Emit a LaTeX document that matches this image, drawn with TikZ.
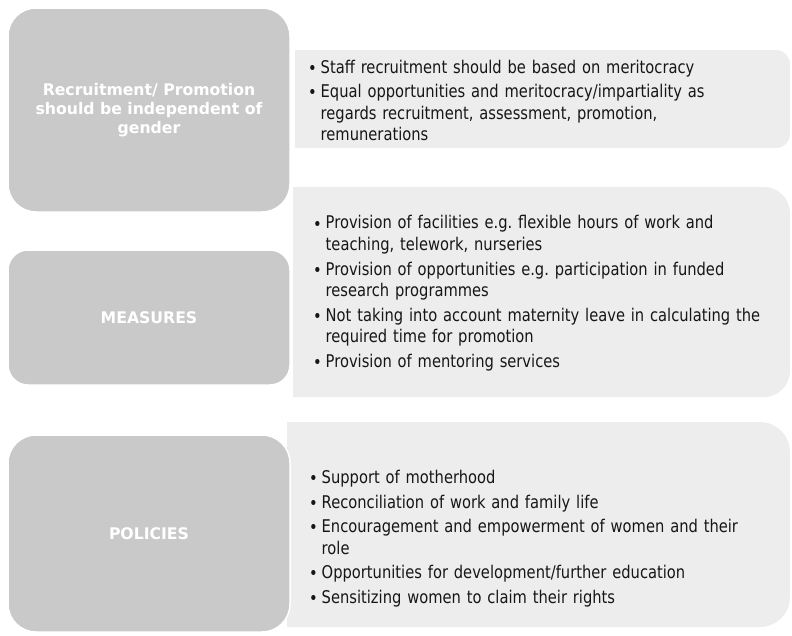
\documentclass[tikz,border=0pt]{standalone}
\usepackage{fontspec}
\setmainfont{DejaVu Sans}[FakeStretch=0.84]
\newfontfamily\headfont{DejaVu Sans}[FakeStretch=0.98]
\usepackage{xcolor}
\usepackage{tikz}

\definecolor{darkbox}{HTML}{C9C9C9}
\definecolor{lightbox}{HTML}{EDEDED}
\definecolor{bodytext}{HTML}{161616}

% one bullet point, wrapped lines kept under the text;
% prevdepth is reset to the last line so the next item sits at the normal skip
\newcommand{\itm}[1]{\par\noindent\makebox[12.5pt][l]{\raisebox{-1.2pt}{\textbullet}}%
	\parbox[t]{450pt}{#1\par\xdef\itmdepth{\the\prevdepth}}\par\prevdepth=\itmdepth\relax}

\tikzset{
	headbox/.style={fill=darkbox, draw=white, line width=1.5pt, text=white, align=center, inner sep=0pt,
		font=\headfont\bfseries\fontsize{16}{19}\selectfont},
	listbox/.style={fill=lightbox},
	listtext/.style={anchor=north west, inner sep=0pt, text width=470pt, align=left, text=bodytext,
		font=\fontsize{17.5}{21.5}\selectfont\frenchspacing\setlength{\parskip}{#1}},
	listtext/.default=2.5pt
}

\begin{document}
\begin{tikzpicture}[x=1pt,y=-1pt]
	\useasboundingbox (0,0) rectangle (792,635);

	% light panels, rounded on the right only
	\fill[listbox] (295,50) [rounded corners=14] -- (790,50) -- (790,148) [sharp corners] -- (295,148) -- cycle;
	\fill[listbox] (293,187) [rounded corners=26] -- (790,187) -- (790,397) [sharp corners] -- (293,397) -- cycle;
	\fill[listbox] (287,422) [rounded corners=30] -- (790,422) -- (790,627) [sharp corners] -- (287,627) -- cycle;

	% grey heading boxes
	\node[headbox, minimum width=282pt, minimum height=204pt, rounded corners=28pt] (recruit) at (149,110)
		{Recruitment/ Promotion\\should be independent of\\gender};
	\node[headbox, minimum width=282pt, minimum height=135pt, rounded corners=20pt] (measures) at (149,317.5)
		{MEASURES};
	\node[headbox, minimum width=282pt, minimum height=197pt, rounded corners=28pt] (policies) at (149,533.5)
		{POLICIES};

	% bullet lists
	\node[listtext] (recruitlist) at (308,49.5) {%
		\itm{Staff recruitment should be based on meritocracy}
		\itm{Equal opportunities and meritocracy/impartiality as\\ regards recruitment, assessment, promotion,\\ remunerations}};
	\node[listtext=3.2pt] (measurelist) at (313,204) {%
		\itm{Provision of facilities e.g. flexible hours of work and\\ teaching, telework, nurseries}
		\itm{Provision of opportunities e.g. participation in funded\\ research programmes}
		\itm{Not taking into account maternity leave in calculating the\\ required time for promotion}
		\itm{Provision of mentoring services}};
	\node[listtext=3pt] (policylist) at (309,459) {%
		\itm{Support of motherhood}
		\itm{Reconciliation of work and family life}
		\itm{Encouragement and empowerment of women and their\\ role}
		\itm{Opportunities for development/further education}
		\itm{Sensitizing women to claim their rights}};
\end{tikzpicture}
\end{document}
